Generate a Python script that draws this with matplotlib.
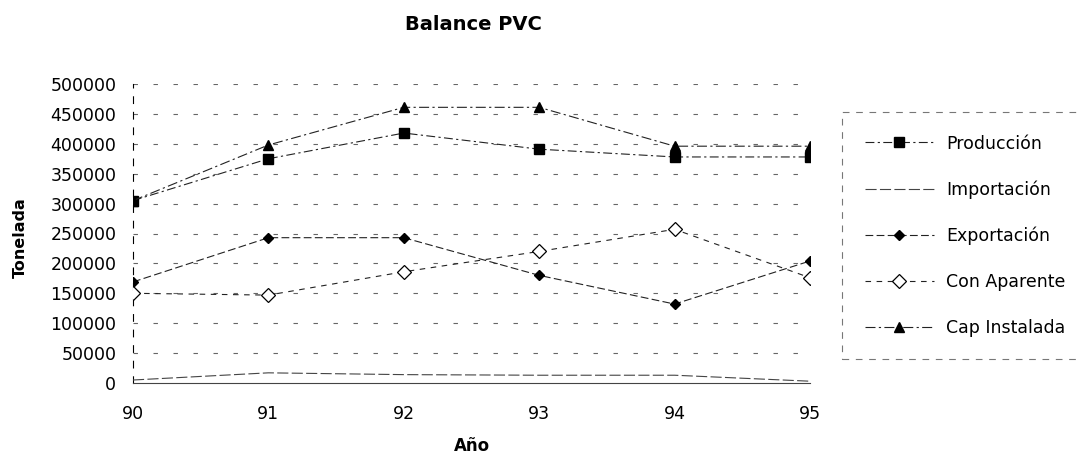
import matplotlib
matplotlib.use("Agg")
import matplotlib.pyplot as plt

plt.rcParams['font.family'] = ['DejaVu Sans']

years = [90, 91, 92, 93, 94, 95]
year_labels = ['90', '91', '92', '93', '94', '95']
produccion = [305000, 375000, 418000, 391000, 378000, 378000]
importacion = [5000, 17000, 14000, 13000, 13000, 3000]
exportacion = [169000, 243000, 243000, 180000, 132000, 204000]
con_aparente = [150000, 147000, 186000, 220000, 257000, 176000]
cap_instalada = [305000, 398000, 461000, 461000, 396000, 396000]
yticks = [0, 50000, 100000, 150000, 200000, 250000, 300000, 350000, 400000, 450000, 500000]

W, H = 1080, 454
fig = plt.figure(figsize=(W / 100, H / 100), dpi=100)
ax = fig.add_axes([133 / W, 1 - 383 / H, (810 - 133) / W, (383 - 84) / H])

ax.set_xlim(90, 95)
ax.set_ylim(0, 500000)

# dashed grid (scanned look)
for v in yticks[1:]:
    ax.axhline(v, color='#666666', lw=0.8, ls=(0, (4, 14)), zorder=1)

lw = 0.8
lc = '#222222'
ax.plot(years, produccion, color=lc, lw=lw, ls=(0, (8, 3, 2, 3)),
        marker='s', ms=7, mfc='black', mec='black', zorder=3, label='Producción')
ax.plot(years, importacion, color='#444444', lw=lw, ls=(0, (10, 3)),
        zorder=3, label='Importación')
ax.plot(years, exportacion, color=lc, lw=lw, ls=(0, (7, 3)),
        marker='D', ms=5, mfc='black', mec='black', zorder=3, label='Exportación')
ax.plot(years, con_aparente, color=lc, lw=lw, ls=(0, (5, 5)),
        marker='D', ms=7, mfc='white', mec='black', mew=0.9, zorder=3, label='Con Aparente')
ax.plot(years, cap_instalada, color=lc, lw=lw, ls=(0, (9, 3, 2, 3)),
        marker='^', ms=7, mfc='black', mec='black', zorder=3, label='Cap Instalada')

for s in ['top', 'right']:
    ax.spines[s].set_visible(False)
ax.spines['left'].set_linestyle((0, (6, 8)))
ax.spines['left'].set_linewidth(0.8)
ax.spines['bottom'].set_linewidth(0.8)
ax.spines['bottom'].set_color('#444444')

ax.set_xticks(years)
ax.set_xticklabels(year_labels)
ax.set_yticks(yticks)
ax.set_yticklabels([str(v) for v in yticks])
ax.tick_params(axis='both', length=0, labelsize=12.5)
ax.tick_params(axis='y', pad=12)
ax.tick_params(axis='x', pad=16)

fig.text(473 / W, 1 - 24 / H, 'Balance PVC', fontsize=14, fontweight='bold',
         ha='center', va='center')
ax.set_ylabel('Tonelada', fontsize=11.5, fontweight='bold')
ax.yaxis.set_label_coords((20 - 133) / 677, (383 - 238) / 299)
ax.yaxis.label.set_va('center')
ax.set_xlabel('Año', fontsize=12, fontweight='bold')
ax.xaxis.set_label_coords(0.5, (383 - 446) / 299)
ax.xaxis.label.set_va('center')

handles, labels = ax.get_legend_handles_labels()
leg = fig.legend(handles, labels, loc='upper left',
                 bbox_to_anchor=(842 / W, 0, 260 / W, 1 - 112 / H), mode='expand',
                 fontsize=12.5, frameon=True, fancybox=False,
                 labelspacing=1.6, handlelength=4.0, handletextpad=0.7,
                 borderpad=1.3, borderaxespad=0)
fr = leg.get_frame()
fr.set_edgecolor('#555555')
fr.set_linestyle((0, (6, 6)))
fr.set_linewidth(0.8)

fig.savefig('out.png', dpi=100)
